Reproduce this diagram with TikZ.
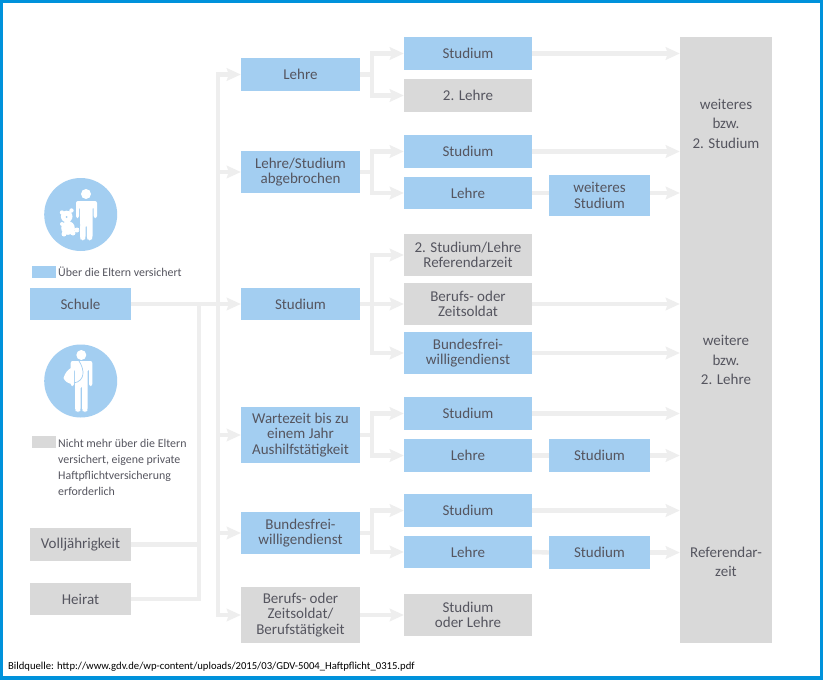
\documentclass[tikz,border=0pt]{standalone}
\usepackage{fontspec}
\setmainfont{Carlito}
\usetikzlibrary{arrows.meta,calc}
\definecolor{bluebox}{HTML}{A3CEF1}
\definecolor{greybox}{HTML}{D9D9D9}
\definecolor{conn}{HTML}{EEEEEE}
\definecolor{txt}{HTML}{55555F}
\definecolor{frame}{HTML}{0092DB}
\tikzset{
  x=1pt,y=-1pt,
  box/.style={anchor=center,inner sep=0pt,align=center,text=txt,font=\fontsize{15}{15.3}\selectfont,execute at begin node={\vspace*{3.6pt}}},
  bb/.style={box,fill=bluebox},
  gb/.style={box,fill=greybox},
  bigtxt/.style={box,font=\fontsize{15}{19.5}\selectfont},
  line/.style={draw=conn,line width=4.4pt},
  arr/.style={line,-{Stealth[length=14pt,width=12.5pt,inset=2pt]}},
  legendtxt/.style={anchor=west,inner sep=0pt,align=left,text=txt,font=\fontsize{11.9}{16}\selectfont},
  icon/.style={fill=bluebox,draw=none},
  figw/.style={fill=white,draw=none},
}
\newcommand{\bx}[6]{\node[#1,minimum width=#4pt,minimum height=#5pt] (#2) at (#3) {#6};}
\begin{document}
\begin{tikzpicture}
\useasboundingbox (0,0) rectangle (823,680);
\fill[frame] (0,0) rectangle (823,680);
\fill[white] (3,3) rectangle (819.5,676);
\coordinate (busa) at (199,304);
\coordinate (busb) at (218,304);
\bx{bb}{schule}{80.5,304}{101}{32}{Schule}
\bx{gb}{voll}{80.5,544.5}{101}{33}{Volljährigkeit}
\bx{gb}{heirat}{80.5,599}{101}{32}{Heirat}
\bx{bb}{c2a}{300.5,74.5}{119}{33}{Lehre}
\bx{bb}{c2b}{300.5,172}{119}{42}{Lehre/Studium\\abgebrochen}
\bx{bb}{c2c}{300.5,304}{119}{32}{Studium}
\bx{bb}{c2d}{300.5,435}{119}{56}{Wartezeit bis zu\\einem Jahr\\Aushilfstätigkeit}
\bx{bb}{c2e}{300.5,533}{119}{42}{Bundesfrei-\\willigendienst}
\bx{gb}{c2f}{300.5,615}{119}{56}{Berufs- oder\\Zeitsoldat/\\Berufstätigkeit}
\bx{bb}{c3a}{468,53.5}{128}{33}{Studium}
\bx{gb}{c3b}{468,95.5}{128}{33}{2. Lehre}
\bx{bb}{c3c}{468,151.5}{128}{33}{Studium}
\bx{bb}{c3d}{468,193}{128}{32}{Lehre}
\bx{gb}{c3e}{468,255}{128}{42}{2. Studium/Lehre\\Referendarzeit}
\bx{gb}{c3f}{468,304}{128}{42}{Berufs- oder\\Zeitsoldat}
\bx{bb}{c3g}{468,353}{128}{42}{Bundesfrei-\\willigendienst}
\bx{bb}{c3h}{468,413.5}{128}{33}{Studium}
\bx{bb}{c3i}{468,455.5}{128}{33}{Lehre}
\bx{bb}{c3j}{468,510.5}{128}{33}{Studium}
\bx{bb}{c3k}{468,552}{128}{32}{Lehre}
\bx{gb}{c3l}{468,615}{128}{42}{Studium\\oder Lehre}
\bx{bb}{c4a}{599.5,195.5}{101}{41}{weiteres\\Studium}
\bx{bb}{c4b}{599.5,455.5}{101}{33}{Studium}
\bx{bb}{c4c}{599.5,552.5}{101}{33}{Studium}
\node[gb,minimum width=92pt,minimum height=606pt] (big) at (726,340) {};
\node[bigtxt] (t1) at (726,123.5) {weiteres\\bzw.\\2. Studium};
\node[bigtxt] (t2) at (726,360) {weitere\\bzw.\\2. Lehre};
\node[bigtxt] (t3) at (726,562) {Referendar-\\zeit};
% connectors
\draw[line] (schule.east) -- (busa);
\draw[line] (heirat.east) -| (busa);
\draw[line] (voll.east) -- (voll.east -| busa);
\draw[arr] (schule.east) -- (c2c.west);
\draw[arr] (busb) |- (c2a.west);
\draw[arr] (busb) |- (c2b.west);
\draw[arr] (busb) |- (c2d.west);
\draw[arr] (busb) |- (c2e.west);
\draw[arr] (busb) |- (c2f.west);
\foreach \s/\p/\q in {c2a/c3a/c3b,c2b/c3c/c3d,c2c/c3e/c3g,c2d/c3h/c3i,c2e/c3j/c3k}{
  \draw[arr] (\s.east) -- ++(12,0) |- (\p.west);
  \draw[arr] (\s.east) -- ++(12,0) |- (\q.west);
}
\draw[arr] (c2c.east) -- (c3f.west);
\draw[arr] (c2f.east) -- (c3l.west);
\foreach \s in {c3a,c3c,c3f,c3g,c3h,c3j}{
  \draw[arr] (\s.east) -- (\s.east -| big.west);
}
\draw[line] (c3d.east) -- (c3d.east -| c4a.west);
\draw[arr] (c3d.east -| c4a.east) -- (c3d.east -| big.west);
\draw[line] (c3i.east) -- (c4b.west);
\draw[arr] (c4b.east) -- (c4b.east -| big.west);
\draw[line] (c3k.east) -- (c4c.west);
\draw[arr] (c4c.east) -- (c4c.east -| big.west);
% icons
\node[icon,circle,minimum size=73pt,inner sep=0pt] (ic1) at (80.7,214.5) {};
\node[icon,circle,minimum size=73pt,inner sep=0pt] (ic2) at (80.7,381) {};
% person with teddy
\fill[figw] (86,194) circle (5);
\fill[figw,rounded corners=2pt] (76,201) -- (97,201) -- (97,218) -- (93.7,218) -- (93.7,207) -- (92.5,207) -- (92.5,238) -- (91.5,240.5) -- (88,240.5) -- (86.8,238) -- (86.8,225) -- (85.6,225) -- (85.6,238) -- (84.5,240.5) -- (81,240.5) -- (80,238) -- (80,207) -- (79,207) -- (79,218) -- (76,218) -- cycle;
\fill[figw] (62,212.5) circle (2.2) (71.5,210.5) circle (2.2) (66.7,216.5) circle (5.8) (68,228) circle (6.8) (62,224) circle (2) (64,234) circle (2.5) (73,233) circle (2.5) (77,230) circle (2.5);
\fill[bluebox] (66.7,217) circle (1);
\draw[bluebox,line width=.5pt] (80,224) -- (79,232);
% person with bag
\fill[figw] (81.3,355) circle (5);
\fill[figw,rounded corners=2pt] (70.7,361) -- (92.3,361) -- (92.3,386) -- (89,386) -- (89,369) -- (87.7,369) -- (87.7,410) -- (86.5,412) -- (83.5,412) -- (82,410) -- (82,386) -- (80.7,386) -- (80.7,410) -- (79.5,412) -- (76.5,412) -- (75,410) -- (75,369) -- (74,369) -- (74,386) -- (70.7,386) -- cycle;
\fill[figw] (63.5,378) .. controls (65,373) and (68,369.5) .. (71,368) -- (72,384) .. controls (68,383.5) and (65,381.5) .. (63.5,378) -- cycle;
\draw[bluebox,line width=.7pt] (79,361) .. controls (85,370) and (85,381) .. (74,383);
% legend
\node[bb,minimum width=24pt,minimum height=12pt] (lg1) at (44,272) {};
\node[legendtxt] (lt1) at (58,272) {Über die Eltern versichert};
\node[gb,minimum width=24pt,minimum height=12pt] (lg2) at (44,442) {};
\node[legendtxt,anchor=north west] (lt2) at (58,439.5) {Nicht mehr über die Eltern\\versichert, eigene private\\Haftpflichtversicherung\\erforderlich};
\node[anchor=west,inner sep=0pt,text=black,font=\fontsize{10.66}{12}\selectfont] (src) at (8,667) {Bildquelle: http://www.gdv.de/wp-content/uploads/2015/03/GDV-5004\_Haftpflicht\_0315.pdf};
\end{tikzpicture}
\end{document}
